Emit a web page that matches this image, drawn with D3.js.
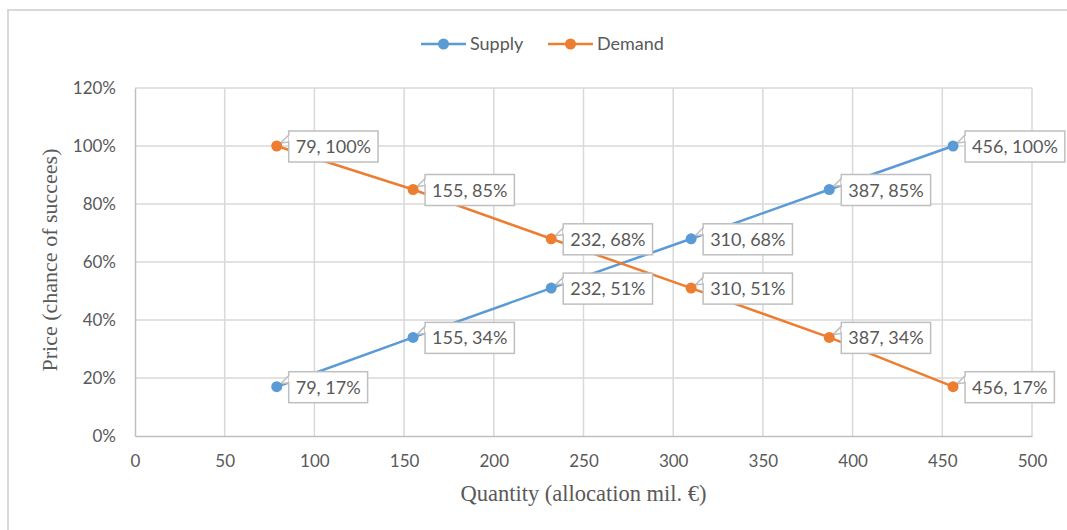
<!DOCTYPE html>
<html>
<head>
<meta charset="utf-8">
<script src="https://cdn.jsdelivr.net/npm/d3@7/dist/d3.min.js"></script>
<style>
  html, body { margin: 0; padding: 0; background: #fff; }
  svg { display: block; }
</style>
</head>
<body>
<svg id="chart" width="1067" height="530"></svg>
<script>
// Quantity (mil. €) at each price step
const quantities = [79, 155, 232, 310, 387, 456];
// Price as chance of success (%)
const supplyValues = [17, 34, 51, 68, 85, 100];
const demandValues = [100, 85, 68, 51, 34, 17];
const seriesNames = ["Supply", "Demand"];
const xTicks = [0, 50, 100, 150, 200, 250, 300, 350, 400, 450, 500];
const yTicks = [0, 20, 40, 60, 80, 100, 120];

const colors = { Supply: "#5b9bd5", Demand: "#ed7d31" };
const textColor = "#595959";
const gridColor = "#d9d9d9";
const sansFont = "Lato, 'Open Sans', sans-serif";
const serifFont = "'Liberation Serif', 'DejaVu Serif', serif";

const svg = d3.select("#chart");
const plot = { left: 135, right: 1032, top: 88, bottom: 436 };

// chart frame
svg.append("rect")
  .attr("x", 8).attr("y", 10)
  .attr("width", 1200).attr("height", 700)
  .attr("fill", "#fff").attr("stroke", gridColor).attr("stroke-width", 2);

const x = d3.scaleLinear().domain([0, 500]).range([plot.left, plot.right]);
const y = d3.scaleLinear().domain([0, 120]).range([plot.bottom, plot.top]);

// gridlines
const grid = svg.append("g");
grid.selectAll("line.v").data(xTicks.filter(d => d > 0)).join("line")
  .attr("x1", d => x(d)).attr("x2", d => x(d))
  .attr("y1", plot.top).attr("y2", plot.bottom)
  .attr("stroke", gridColor).attr("stroke-width", 1.5);
grid.selectAll("line.h").data(yTicks.filter(d => d > 0)).join("line")
  .attr("x1", plot.left).attr("x2", plot.right)
  .attr("y1", d => y(d)).attr("y2", d => y(d))
  .attr("stroke", gridColor).attr("stroke-width", 1.5);

// axes
const xAxis = svg.append("g")
  .attr("transform", `translate(0,${plot.bottom})`)
  .call(d3.axisBottom(x).tickValues(xTicks).tickSize(0).tickPadding(19));
const yAxis = svg.append("g")
  .attr("transform", `translate(${plot.left},0)`)
  .call(d3.axisLeft(y).tickValues(yTicks).tickSize(0).tickPadding(19).tickFormat(d => d + "%"));
[xAxis, yAxis].forEach(a => {
  a.select(".domain").attr("stroke", "#bfbfbf").attr("stroke-width", 1.5);
  a.selectAll("text").attr("fill", textColor).style("font-family", sansFont).style("font-size", "17px");
});

// axis titles
svg.append("text")
  .attr("x", (plot.left + plot.right) / 2).attr("y", 501)
  .attr("text-anchor", "middle")
  .attr("fill", textColor).style("font-family", serifFont).style("font-size", "22.5px")
  .text("Quantity (allocation mil. €)");
svg.append("text")
  .attr("transform", `translate(57,${(plot.top + plot.bottom) / 2 - 2}) rotate(-90)`)
  .attr("text-anchor", "middle")
  .attr("fill", textColor).style("font-family", serifFont).style("font-size", "22px")
  .text("Price (chance of succees)");

const series = [
  { name: "Supply", values: supplyValues },
  { name: "Demand", values: demandValues }
].map(s => ({ name: s.name, points: quantities.map((q, i) => ({ q, v: s.values[i] })) }));

const line = d3.line().x(d => x(d.q)).y(d => y(d.v));

series.forEach(s => {
  svg.append("path").datum(s.points)
    .attr("d", line).attr("fill", "none")
    .attr("stroke", colors[s.name]).attr("stroke-width", 2.5);
});

// data label callouts
const labels = svg.append("g");
series.forEach(s => {
  s.points.forEach(p => {
    const px = x(p.q), py = y(p.v);
    const g = labels.append("g");
    const txt = g.append("text")
      .attr("x", px + 19).attr("y", py + 7)
      .attr("fill", textColor).style("font-family", sansFont).style("font-size", "18px")
      .text(`${p.q}, ${p.v}%`);
    const bb = txt.node().getBBox();
    const bx = px + 12, bw = bb.width + 14, bh = 31, by = py - 15;
    g.insert("path", "text")
      .attr("d", `M${bx},${by + 4} L${px + 4},${py - 3} L${bx},${by + 11} Z`)
      .attr("fill", "#fff").attr("stroke", "#bfbfbf").attr("stroke-width", 1.5).attr("stroke-linejoin", "round");
    g.insert("rect", "text")
      .attr("x", bx).attr("y", by).attr("width", bw).attr("height", bh)
      .attr("fill", "#fff").attr("stroke", "#bfbfbf").attr("stroke-width", 1.5);
    g.insert("path", "text")
      .attr("d", `M${bx + 1},${by + 5} L${bx + 1},${by + 10}`)
      .attr("stroke", "#fff").attr("stroke-width", 2);
  });
});

// markers drawn on top of lines
series.forEach(s => {
  svg.append("g").selectAll("circle").data(s.points).join("circle")
    .attr("cx", d => x(d.q)).attr("cy", d => y(d.v)).attr("r", 5.5)
    .attr("fill", colors[s.name]);
});

// legend
const legend = svg.append("g");
const legendItems = [
  { name: seriesNames[0], x0: 421 },
  { name: seriesNames[1], x0: 548 }
];
legendItems.forEach(it => {
  legend.append("line")
    .attr("x1", it.x0).attr("x2", it.x0 + 45).attr("y1", 44).attr("y2", 44)
    .attr("stroke", colors[it.name]).attr("stroke-width", 2.5);
  legend.append("circle").attr("cx", it.x0 + 22.5).attr("cy", 44).attr("r", 5.5).attr("fill", colors[it.name]);
  legend.append("text")
    .attr("x", it.x0 + 49).attr("y", 50)
    .attr("fill", textColor).style("font-family", sansFont).style("font-size", "18px")
    .text(it.name);
});
</script>
</body>
</html>
